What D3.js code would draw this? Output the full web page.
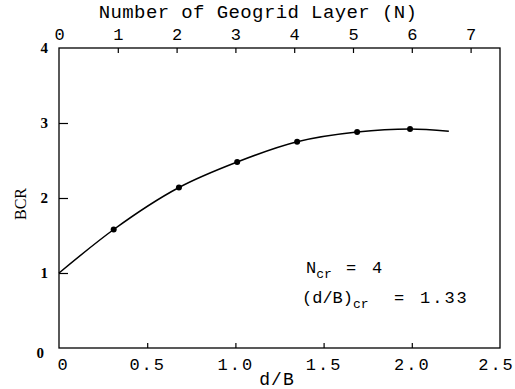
<!DOCTYPE html>
<html>
<head>
<meta charset="utf-8">
<script src="https://cdn.jsdelivr.net/npm/d3@7"></script>
<style>
  html, body { margin: 0; padding: 0; background: #fff; }
  svg { display: block; }
  .mono { font-family: "Liberation Mono", "DejaVu Sans Mono", monospace; fill: #000; }
  .serif { font-family: "Liberation Serif", "DejaVu Serif", serif; fill: #000; }
</style>
</head>
<body>
<svg id="chart" width="515" height="389"></svg>
<script>
// measured points (d/B, BCR)
const dB  = [0.31, 0.68, 1.01, 1.35, 1.69, 1.99];
const bcr = [1.58, 2.14, 2.48, 2.75, 2.88, 2.92];
// the fitted curve starts on the axis and runs a bit past the last point
const curveDB  = [0, ...dB, 2.21];
const curveBCR = [1.0, ...bcr, 2.89];

const xTicks = [0, 0.5, 1.0, 1.5, 2.0, 2.5];
const xTickLabels = ["0", "0.5", "1.0", "1.5", "2.0", "2.5"];
const nTicks = [0, 1, 2, 3, 4, 5, 6, 7];
const yTicks = [0, 1, 2, 3, 4];

const W = 515, H = 389;
const m = { left: 59, right: 15, top: 48, bottom: 41 };

const svg = d3.select("#chart");

const x  = d3.scaleLinear().domain([0, 2.5]).range([m.left, W - m.right]);
const xN = d3.scaleLinear().domain([0, 7.5]).range([m.left, W - m.right]);
const y  = d3.scaleLinear().domain([0, 4]).range([H - m.bottom, m.top]);

// frame
svg.append("rect")
  .attr("x", x(0)).attr("y", y(4))
  .attr("width", x(2.5) - x(0)).attr("height", y(0) - y(4))
  .attr("fill", "none").attr("stroke", "#000").attr("stroke-width", 1.3);

// bottom axis (ticks point inward)
const gBottom = svg.append("g")
  .attr("transform", `translate(0,${y(0)})`)
  .call(d3.axisBottom(x).tickValues(xTicks).tickSizeInner(-5).tickSizeOuter(0)
    .tickFormat((d, i) => xTickLabels[i]).tickPadding(10));
gBottom.select(".domain").remove();
gBottom.selectAll("line").attr("stroke-width", 1.2)
  .filter(d => d === 0 || d === 2.5).remove();
gBottom.selectAll("text").attr("class", "mono").attr("font-size", 17)
  .attr("letter-spacing", 2).attr("fill", "#000");
gBottom.selectAll("text").filter(d => d === 0).attr("dx", 4);
gBottom.selectAll("text").filter(d => d === 2.5).attr("dx", -4);

// top axis: geogrid layers
const gTop = svg.append("g")
  .attr("transform", `translate(0,${y(4)})`)
  .call(d3.axisTop(xN).tickValues(nTicks).tickSizeInner(-5).tickSizeOuter(0)
    .tickFormat(d3.format("d")).tickPadding(8));
gTop.select(".domain").remove();
gTop.selectAll("line").attr("stroke-width", 1.2).filter(d => d === 0).remove();
gTop.selectAll("text").attr("class", "mono").attr("font-size", 17).attr("fill", "#000");

// left axis
const gLeft = svg.append("g")
  .attr("transform", `translate(${x(0)},0)`)
  .call(d3.axisLeft(y).tickValues(yTicks).tickSizeInner(-9).tickSizeOuter(0)
    .tickFormat(d3.format("d")).tickPadding(11));
gLeft.select(".domain").remove();
gLeft.selectAll("line").attr("stroke-width", 1.2)
  .filter(d => d === 0 || d === 4).remove();
gLeft.selectAll("text").attr("class", "serif").attr("font-size", 15)
  .attr("font-weight", "bold").attr("fill", "#000");
gLeft.selectAll("text").filter(d => d === 0).attr("dy", "0.6em").attr("dx", -4);

// curve through the measured points
const pts = curveDB.map((d, i) => [d, curveBCR[i]]);
svg.append("path")
  .datum(pts)
  .attr("fill", "none").attr("stroke", "#000").attr("stroke-width", 1.5)
  .attr("d", d3.line().x(d => x(d[0])).y(d => y(d[1])).curve(d3.curveMonotoneX));

svg.append("g").selectAll("circle")
  .data(dB.map((d, i) => [d, bcr[i]]))
  .join("circle")
  .attr("cx", d => x(d[0])).attr("cy", d => y(d[1]))
  .attr("r", 3).attr("fill", "#000");

// axis titles
svg.append("text").attr("class", "mono")
  .attr("x", 258).attr("y", 18).attr("text-anchor", "middle")
  .attr("font-size", 19).attr("letter-spacing", 0.4).text("Number of Geogrid Layer (N)");

svg.append("text").attr("class", "mono")
  .attr("x", 277).attr("y", 385).attr("text-anchor", "middle")
  .attr("font-size", 18).attr("letter-spacing", 1).text("d/B");

svg.append("text").attr("class", "serif")
  .attr("transform", "translate(26,204) rotate(-90)")
  .attr("text-anchor", "middle").attr("font-size", 16).text("BCR");

// annotation
const a1 = svg.append("text").attr("class", "mono").attr("y", 273).attr("font-size", 17);
a1.append("tspan").attr("x", 306).text("N");
a1.append("tspan").attr("font-size", 13).attr("dy", 5).text("cr");
a1.append("tspan").attr("x", 346).attr("dy", -5).text("=");
a1.append("tspan").attr("x", 372).text("4");

const a2 = svg.append("text").attr("class", "mono").attr("y", 303).attr("font-size", 17);
a2.append("tspan").attr("x", 302).text("(d/B)");
a2.append("tspan").attr("font-size", 13).attr("dy", 5).text("cr");
a2.append("tspan").attr("x", 394).attr("dy", -5).text("=");
a2.append("tspan").attr("x", 420).attr("letter-spacing", 2).text("1.33");
</script>
</body>
</html>
